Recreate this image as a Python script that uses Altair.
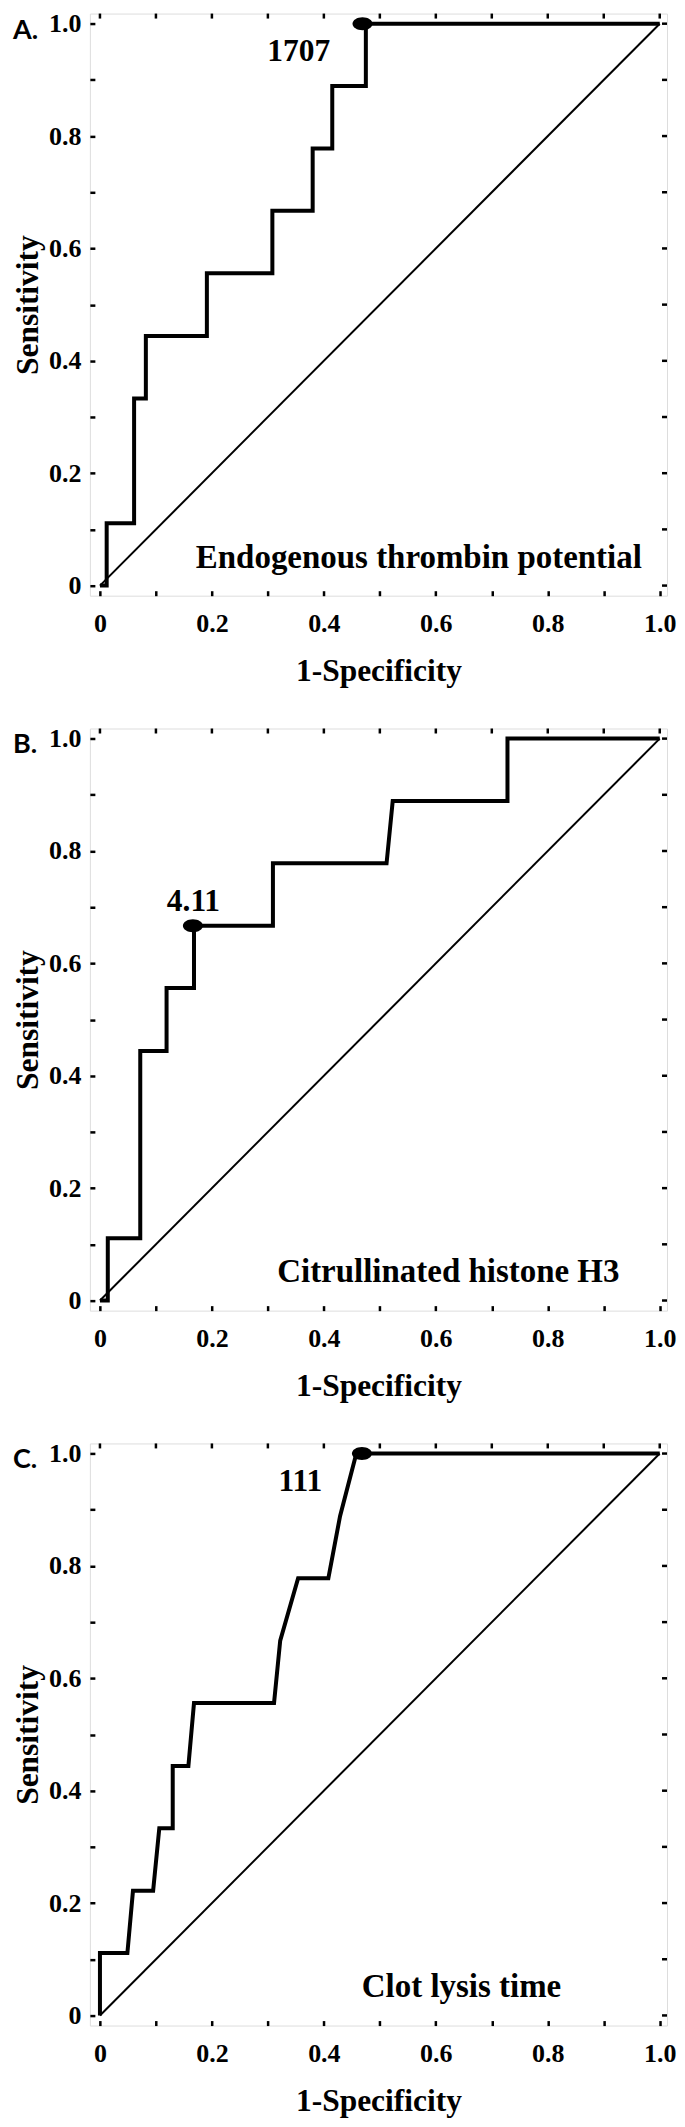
import altair as alt
import pandas as pd

# ---- data ----
A_fpr = [0, 0.012, 0.012, 0.061, 0.061, 0.082, 0.082, 0.191, 0.191, 0.308, 0.308, 0.380, 0.380, 0.415, 0.415, 0.475, 0.475, 1.0]
A_tpr = [0, 0, 0.111, 0.111, 0.333, 0.333, 0.444, 0.444, 0.556, 0.556, 0.667, 0.667, 0.778, 0.778, 0.889, 0.889, 1.0, 1.0]

B_fpr = [0, 0.014, 0.014, 0.072, 0.072, 0.119, 0.119, 0.168, 0.168, 0.309, 0.309, 0.512, 0.523, 0.728, 0.728, 1.0]
B_tpr = [0, 0, 0.111, 0.111, 0.444, 0.444, 0.556, 0.556, 0.667, 0.667, 0.778, 0.778, 0.889, 0.889, 1.0, 1.0]

C_fpr = [0, 0, 0.049, 0.059, 0.095, 0.106, 0.130, 0.130, 0.158, 0.168, 0.311, 0.322, 0.354, 0.408, 0.429, 0.458, 1.0]
C_tpr = [0, 0.111, 0.111, 0.222, 0.222, 0.333, 0.333, 0.444, 0.444, 0.556, 0.556, 0.667, 0.778, 0.778, 0.889, 1.0, 1.0]

diag_fpr = [0, 1]
diag_tpr = [0, 1]

panel_letters = ["A.", "B.", "C."]
marker_names = ["Endogenous thrombin potential", "Citrullinated histone H3", "Clot lysis time"]
cutoff_labels = ["1707", "4.11", "111"]
cutoff_fpr = [0.469, 0.166, 0.468]
cutoff_tpr = [1.0, 0.667, 1.0]
cutoff_label_x = [0.355, 0.167, 0.358]
cutoff_label_y = [0.934, 0.694, 0.934]
name_x = [0.968, 0.928, 0.824]
name_y = [0.032, 0.033, 0.033]

tick_values = [0, 0.1, 0.2, 0.3, 0.4, 0.5, 0.6, 0.7, 0.8, 0.9, 1.0]

# ---- styling ----
SERIF = "Liberation Serif"
SANS = "Lato"
X_DOMAIN = [-0.018, 1.013]
Y_DOMAIN = [-0.018, 1.018]
W, H = 578, 583
TICK = 5
ELLIPSE = "M -1 0 A 1 0.65 0 1 1 1 0 A 1 0.65 0 1 1 -1 0 Z"
label_expr = ("datum.value == 0 ? '0' : (round(datum.value * 10) % 2 == 0 ? "
              "format(datum.value, '.1f') : '')")

tick_style = dict(values=tick_values, domain=False, grid=False, ticks=True,
                  tickSize=TICK, tickWidth=2.5, tickColor="black", offset=-TICK,
                  minExtent=0)
label_style = dict(labelFont=SERIF, labelFontWeight="bold", labelFontSize=26,
                   labelColor="black", labelFlush=False, labelOverlap=False,
                   labelExpr=label_expr)
title_style = dict(titleFont=SERIF, titleFontWeight="bold", titleFontSize=31.5,
                   titleColor="black")

x_bottom = alt.Axis(orient="bottom", title="1-Specificity", labelPadding=15,
                    titlePadding=19, **tick_style, **label_style, **title_style)
y_left = alt.Axis(orient="left", title="Sensitivity", labelPadding=9,
                  titlePadding=4, labelAlign="right", labelBaseline="middle",
                  **tick_style, **label_style, **title_style)

xs = alt.Scale(domain=X_DOMAIN, nice=False, zero=False)
ys = alt.Scale(domain=Y_DOMAIN, nice=False, zero=False)
ticks_df = pd.DataFrame({"v": tick_values})


def X(field):
    return alt.X(field, type="quantitative", scale=xs, axis=x_bottom)


def Y(field):
    return alt.Y(field, type="quantitative", scale=ys, axis=y_left)


def panel(k, fpr, tpr):
    curve = pd.DataFrame({"fpr": fpr, "tpr": tpr, "i": list(range(len(fpr)))})
    diag = pd.DataFrame({"fpr": diag_fpr, "tpr": diag_tpr})
    dot = pd.DataFrame({"fpr": [cutoff_fpr[k]], "tpr": [cutoff_tpr[k]]})
    cut = pd.DataFrame({"fpr": [cutoff_label_x[k]], "tpr": [cutoff_label_y[k]],
                        "t": [cutoff_labels[k]]})
    nm = pd.DataFrame({"fpr": [name_x[k]], "tpr": [name_y[k]], "t": [marker_names[k]]})
    let = pd.DataFrame({"t": [panel_letters[k]]})

    curve_l = alt.Chart(curve).mark_line(color="black", strokeWidth=4,
                                         strokeJoin="miter").encode(
        x=X("fpr"), y=Y("tpr"), order="i:Q",
    )
    diag_l = alt.Chart(diag).mark_line(color="black", strokeWidth=2).encode(
        x=X("fpr"), y=Y("tpr"),
    )
    top_ticks = alt.Chart(ticks_df).mark_rule(color="black", strokeWidth=2.5).encode(
        x=X("v"), y=alt.value(0), y2=alt.value(TICK),
    )
    right_ticks = alt.Chart(ticks_df).mark_rule(color="black", strokeWidth=2.5).encode(
        y=Y("v"), x=alt.value(W - TICK), x2=alt.value(W),
    )
    dot_l = alt.Chart(dot).mark_point(shape=ELLIPSE, size=400, filled=True,
                                      color="black", opacity=1).encode(
        x=X("fpr"), y=Y("tpr"),
    )
    cut_l = alt.Chart(cut).mark_text(font=SERIF, fontWeight="bold", fontSize=31.5,
                                     align="center", baseline="alphabetic",
                                     color="black").encode(
        x=X("fpr"), y=Y("tpr"), text="t:N",
    )
    nm_l = alt.Chart(nm).mark_text(font=SERIF, fontWeight="bold", fontSize=33,
                                   align="right", baseline="alphabetic",
                                   color="black").encode(
        x=X("fpr"), y=Y("tpr"), text="t:N",
    )
    let_l = alt.Chart(let).mark_text(font=SANS, fontWeight="bold", fontSize=27,
                                     align="left", baseline="middle",
                                     color="black").encode(
        x=alt.value(-77), y=alt.value(17), text="t:N",
    )
    return alt.layer(curve_l, diag_l, top_ticks, right_ticks, dot_l, cut_l,
                     nm_l, let_l).properties(width=W, height=H)


chart = alt.vconcat(
    panel(0, A_fpr, A_tpr),
    panel(1, B_fpr, B_tpr),
    panel(2, C_fpr, C_tpr),
    spacing=133,
    bounds="flush",
).properties(
    padding={"left": 4, "top": 0, "right": 0, "bottom": 0}
).configure_view(stroke="black", strokeWidth=4).configure(background="white")

chart.save("out.html", embed_options={"renderer": "svg", "actions": False})
